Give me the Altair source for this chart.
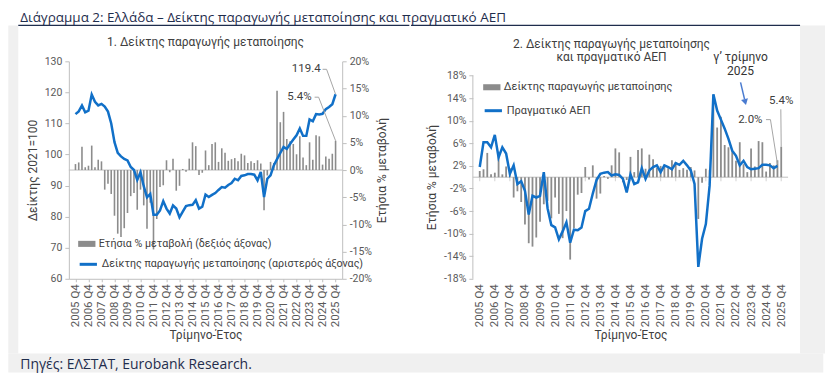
import altair as alt
import pandas as pd

# ---------------- data ----------------
quarters = ["2005 Q4"] + [f"{y} Q{k}" for y in range(2006, 2026) for k in (1, 2, 3, 4)]
year_labels = [q for q in quarters if q.endswith("Q4")]

index_vals = [113.0, 113.9, 115.8, 113.6, 114.1, 119.3, 117.0, 115.8, 116.3, 115.4,
              113.8, 110.0, 104.0, 100.5, 99.4, 98.6, 98.1, 96.0, 95.0, 91.8,
              94.3, 89.8, 86.2, 87.3, 80.6, 80.6, 82.0, 85.0, 82.6, 81.0,
              83.6, 82.6, 79.8, 81.6, 83.4, 83.7, 83.8, 85.3, 82.6, 83.2,
              87.1, 86.3, 87.0, 87.6, 88.6, 89.5, 89.3, 90.2, 90.8, 92.2,
              91.7, 93.1, 93.3, 93.7, 93.7, 93.5, 91.7, 94.4, 86.3, 92.2,
              93.3, 96.5, 98.5, 100.5, 102.4, 101.8, 103.4, 104.8, 106.2, 108.4,
              106.0, 106.0, 111.3, 110.7, 113.0, 112.9, 113.1, 114.6, 115.3, 116.2, 119.4]

ipi_yoy = [1.1, 1.4, 4.3, 0.5, 0.8, 4.5, 0.5, 1.9, 1.6, -3.6,
           -2.5, -4.4, -8.4, -11.7, -12.3, -10.7, -7.9, -4.8, -4.2, -7.3,
           -3.6, -6.5, -10.8, -6.0, -14.6, -9.0, -3.1, -2.8, 1.8, -0.4,
           2.1, -3.8, -2.9, 0.2, -0.3, 2.1, 5.1, 4.4, -0.9, -0.5,
           3.6, 0.9, 4.8, 5.1, 1.5, 4.0, 3.2, 1.7, 2.0, 2.2,
           1.6, 3.0, 2.7, 1.3, 1.6, 1.3, 1.8, 1.2, -7.4, -1.0,
           1.5, 1.3, 14.6, 8.8, 10.7, 5.7, 5.3, 4.8, 2.9, 6.2,
           2.3, 0.9, 5.1, 1.9, 6.4, 6.2, 1.0, 2.5, 2.1, 3.0, 5.4]

gdp_yoy = [1.8, 6.2, 6.2, 5.3, 7.5, 3.5, 5.3, 4.2, 0.6, 2.1,
           -1.2, -0.7, -2.4, -6.6, -3.3, -3.6, -3.3, 0.9, -5.5, -8.5,
           -8.9, -11.0, -9.6, -8.0, -11.6, -9.3, -9.4, -8.9, -6.0, -5.6,
           -2.9, -0.5, 0.6, 0.8, 0.9, 0.3, 0.5, 0.4, -0.3, -2.7,
           0.5, -1.2, -0.9, 1.6, -0.3, 1.2, 1.8, 2.1, 0.9, 2.1,
           1.8, 1.4, 2.5, 2.2, 2.9, 2.1, 1.2, -1.2, -15.9, -10.9,
           -8.3, -1.5, 14.7, 11.8, 10.2, 8.6, 6.8, 4.7, 3.8, 2.1,
           2.9, 1.8, 1.4, 1.5, 1.6, 2.2, 2.2, 2.1, 1.6, 2.0, None]

main_title = "Διάγραμμα 2: Ελλάδα – Δείκτης παραγωγής μεταποίησης και πραγματικό ΑΕΠ"
left_title = "1. Δείκτης παραγωγής μεταποίησης"
right_title = ["2. Δείκτης παραγωγής μεταποίησης", "και πραγματικό ΑΕΠ"]
bar_lbl_left = "Ετήσια % μεταβολή (δεξιός άξονας)"
line_lbl_left = "Δείκτης παραγωγής μεταποίησης (αριστερός άξονας)"
bar_lbl_right = "Δείκτης παραγωγής μεταποίησης"
line_lbl_right = "Πραγματικό ΑΕΠ"
note_lines = ["γ’ τρίμηνο", "2025"]
footer_text = "Πηγές: ΕΛΣΤΑΤ, Eurobank Research."

# ---------------- style ----------------
FONT = "Roboto"
HFONT = "Open Sans"
GRAY_BAR = "#8c8c8c"
BLUE = "#1170c8"
ARROW = "#4a7bd0"
AX = "#bfbfbf"
LBL = "#595959"
TXT = "#404040"
NAVY = "#1f2d4d"
BG = "#f0f0f0"
LEAD = "#a6a6a6"

n = len(quarters)
df = pd.DataFrame({"q": list(range(n)), "quarter": quarters, "idx": index_vals,
                   "ipi": ipi_yoy, "gdp": gdp_yoy})
df["bl"] = bar_lbl_left
df["ll"] = line_lbl_left
df["bl2"] = bar_lbl_right
df["ll2"] = line_lbl_right

last = df.iloc[[n - 1]].copy()
last["idx_lbl"] = last["idx"].map(lambda v: f"{v:.1f}")
last["ipi_lbl"] = last["ipi"].map(lambda v: f"{v:.1f}%")
gdp_last = df[df["gdp"].notna()].iloc[[-1]].copy()
gdp_last["gdp_lbl"] = gdp_last["gdp"].map(lambda v: f"{v:.1f}%")
gdp_last["n1"] = note_lines[0]
gdp_last["n2"] = note_lines[1]

one = pd.DataFrame({"a": [0]})
zero_df = pd.DataFrame({"v": [0.0]})
tick_df = pd.DataFrame({"q": list(range(0, n, 4)), "v": 0.0})
ydom_df = pd.DataFrame({"lo": [-18.0], "hi": [18.0]})

label_expr = "[" + ",".join(f"'{s}'" for s in year_labels) + "][round(datum.value / 4)]"
xs = alt.Scale(domain=[-0.5, n - 0.5], nice=False, zero=False)

# page positions (px) of the two plot origins: left (68.7, 59), right (472, 59)


def x_axis(bottom_line):
    return alt.Axis(values=list(range(0, n, 4)), labelExpr=label_expr, labelAngle=270,
                    labelFont=FONT, labelFontSize=11.5, labelColor=LBL,
                    labelPadding=2 if bottom_line else 5, labelOverlap=False, labelFlush=False,
                    ticks=bottom_line, tickSize=3, tickColor=AX,
                    domain=bottom_line, domainColor=AX, grid=False,
                    title="Τρίμηνο-Έτος", titleFont=FONT, titleFontSize=12,
                    titleFontWeight="normal", titleColor=TXT, titlePadding=3)


def leg(x, y, kind, size=11):
    common = dict(title=None, orient="none", legendX=x, legendY=y, labelFont=FONT,
                  labelFontSize=size, labelColor=TXT, labelOffset=3, padding=0, labelLimit=400)
    if kind == "bar":
        return alt.Legend(symbolType="M-1,-0.35L1,-0.35L1,0.35L-1,0.35Z", symbolSize=300,
                          symbolStrokeWidth=0, **common)
    return alt.Legend(symbolType="stroke", symbolSize=300, symbolStrokeWidth=3, **common)


def bg_rect(x1, x2, y1, y2):
    return alt.Chart(one).mark_rect(color=BG).encode(
        x=alt.value(x1), x2=alt.value(x2), y=alt.value(y1), y2=alt.value(y2))


def label(txt, x, y, size, color=TXT, font=FONT, align="center", baseline="middle"):
    return alt.Chart(one).mark_text(align=align, baseline=baseline, font=font,
                                    fontSize=size, color=color).encode(
        x=alt.value(x), y=alt.value(y), text=alt.value(txt))


# ---------------- left panel ----------------
yL = alt.Scale(domain=[60, 130], nice=False, zero=False)
yR = alt.Scale(domain=[-20, 20], nice=False)
xaL = x_axis(True)
XL = alt.X("q:Q", scale=xs, axis=xaL)

yaxis_left = alt.Axis(values=list(range(60, 131, 10)), orient="left", grid=False,
                      labelFont=FONT, labelFontSize=10.5, labelColor=LBL, labelPadding=3,
                      tickSize=4, tickColor=AX, domainColor=AX,
                      title="Δείκτης 2021=100", titleFont=FONT, titleFontSize=12,
                      titleFontWeight="normal", titleColor=TXT, titlePadding=5)
yaxis_right = alt.Axis(values=list(range(-20, 21, 5)), orient="right", grid=False,
                       labelExpr="datum.value + '%'",
                       labelFont=FONT, labelFontSize=10.5, labelColor=LBL, labelPadding=3,
                       tickSize=4, tickColor=AX, domainColor=AX,
                       title="Ετήσια % μεταβολή", titleAngle=270, titleBaseline="top",
                       titleFont=FONT, titleFontSize=12,
                       titleFontWeight="normal", titleColor=TXT, titlePadding=5)

bg_l = bg_rect(-60.7, -50.7, -36, 293)
top_l = alt.Chart(one).mark_rule(color=NAVY, strokeWidth=1.3).encode(
    x=alt.value(-50.7), x2=alt.value(341.3), y=alt.value(-36))
sub_l = label(left_title, 137, -19, 12)
zero_l = alt.Chart(zero_df).mark_rule(color=AX, strokeWidth=1).encode(
    y=alt.Y("v:Q", scale=yR, axis=None))
bars_l = alt.Chart(df).mark_bar(width=1.6).encode(
    x=XL, y=alt.Y("ipi:Q", scale=yR, axis=yaxis_right),
    fill=alt.Fill("bl:N", scale=alt.Scale(domain=[bar_lbl_left], range=[GRAY_BAR]),
                  legend=leg(9, 174, "bar", 10.7)))
line_l = alt.Chart(df).mark_line(strokeWidth=2.5).encode(
    x=XL, y=alt.Y("idx:Q", scale=yL, axis=yaxis_left),
    stroke=alt.Stroke("ll:N", scale=alt.Scale(domain=[line_lbl_left], range=[BLUE]),
                      legend=leg(9, 193, "line", 10.7)))

ann_idx_t = alt.Chart(last).mark_text(align="right", baseline="middle", dx=-15, dy=-25,
                                      font=FONT, fontSize=11.5, color=TXT).encode(
    x=XL, y=alt.Y("idx:Q", scale=yL, axis=None), text="idx_lbl:N")
ann_idx_r = alt.Chart(last).mark_rule(color=LEAD, strokeWidth=1, x2Offset=-9, y2Offset=-25).encode(
    x=XL, x2="q:Q", y=alt.Y("idx:Q", scale=yL, axis=None), y2="idx:Q")
ann_idx_h = alt.Chart(last).mark_rule(color=LEAD, strokeWidth=1, xOffset=-9, x2Offset=-13,
                                      yOffset=-25, y2Offset=-25).encode(
    x=XL, x2="q:Q", y=alt.Y("idx:Q", scale=yL, axis=None), y2="idx:Q")
ann_ipi_t = alt.Chart(last).mark_text(align="right", baseline="middle", dx=-24, dy=-43.6,
                                      font=FONT, fontSize=11.5, color=TXT).encode(
    x=XL, y=alt.Y("ipi:Q", scale=yR, axis=None), text="ipi_lbl:N")
ann_ipi_r = alt.Chart(last).mark_rule(color=LEAD, strokeWidth=1, x2Offset=-17, y2Offset=-43.6).encode(
    x=XL, x2="q:Q", y=alt.Y("ipi:Q", scale=yR, axis=None), y2="ipi:Q")
ann_ipi_h = alt.Chart(last).mark_rule(color=LEAD, strokeWidth=1, xOffset=-17, x2Offset=-21,
                                      yOffset=-43.6, y2Offset=-43.6).encode(
    x=XL, x2="q:Q", y=alt.Y("ipi:Q", scale=yR, axis=None), y2="ipi:Q")

left = alt.layer(bg_l, top_l, sub_l, zero_l, bars_l, line_l, ann_idx_r, ann_idx_h,
                 ann_idx_t, ann_ipi_r, ann_ipi_h, ann_ipi_t).resolve_scale(
    y="independent").properties(width=274, height=218)

# ---------------- right panel ----------------
PX = 203.4 / 36.0
yS = alt.Scale(domain=[-18, 18 + 14.3 / PX], nice=False)
xaR = x_axis(False)
XR = alt.X("q:Q", scale=xs, axis=xaR)
yaxis_r = alt.Axis(values=list(range(-18, 19, 4)), orient="left", grid=False,
                   labelExpr="datum.value + '%'", domain=False,
                   labelFont=FONT, labelFontSize=10.5, labelColor=LBL, labelPadding=3,
                   tickSize=4, tickColor=AX,
                   title="Ετήσια % μεταβολή", titleFont=FONT, titleFontSize=12,
                   titleFontWeight="normal", titleColor=TXT, titlePadding=5, titleY=116)


def YR(f):
    return alt.Y(f, scale=yS, axis=yaxis_r)


bg_r = bg_rect(328, 353, -36, 293)
top_r = alt.Chart(one).mark_rule(color=NAVY, strokeWidth=1.3).encode(
    x=alt.value(-62), x2=alt.value(328), y=alt.value(-36))
sub_r1 = label(right_title[0], 139, -17, 12)
sub_r2 = label(right_title[1], 139, -4, 12)
dom_r = alt.Chart(ydom_df).mark_rule(color=AX, strokeWidth=1).encode(
    x=alt.value(0), y=YR("lo:Q"), y2="hi:Q")
zero_r = alt.Chart(zero_df).mark_rule(color=AX, strokeWidth=1).encode(y=YR("v:Q"))
ticks_r = alt.Chart(tick_df).mark_tick(orient="vertical", size=4, thickness=1, color=AX,
                                       yOffset=2).encode(x=XR, y=YR("v:Q"))
bars_r = alt.Chart(df).mark_bar(width=1.8).encode(
    x=XR, y=YR("ipi:Q"),
    fill=alt.Fill("bl2:N", scale=alt.Scale(domain=[bar_lbl_right], range=[GRAY_BAR]),
                  legend=leg(10, 17, "bar")))
line_r = alt.Chart(df).mark_line(strokeWidth=2.5).encode(
    x=XR, y=YR("gdp:Q"),
    stroke=alt.Stroke("ll2:N", scale=alt.Scale(domain=[line_lbl_right], range=[BLUE]),
                      legend=leg(10, 39, "line")))

g_t = alt.Chart(gdp_last).mark_text(align="right", baseline="middle", dx=-15, dy=-46.4,
                                    font=FONT, fontSize=11.5, color=TXT).encode(
    x=XR, y=YR("gdp:Q"), text="gdp_lbl:N")
g_r = alt.Chart(gdp_last).mark_rule(color=LEAD, strokeWidth=1, yOffset=-2, x2Offset=-7,
                                    y2Offset=-46.4).encode(
    x=XR, x2="q:Q", y=YR("gdp:Q"), y2="gdp:Q")
g_h = alt.Chart(gdp_last).mark_rule(color=LEAD, strokeWidth=1, xOffset=-7, x2Offset=-11.5,
                                    yOffset=-46.4, y2Offset=-46.4).encode(
    x=XR, x2="q:Q", y=YR("gdp:Q"), y2="gdp:Q")
n1_t = alt.Chart(gdp_last).mark_text(align="center", baseline="middle", dx=-37, dy=-109.4,
                                     font=FONT, fontSize=12, color="#333333").encode(
    x=XR, y=YR("gdp:Q"), text="n1:N")
n2_t = alt.Chart(gdp_last).mark_text(align="center", baseline="middle", dx=-37, dy=-95.6,
                                     font=FONT, fontSize=12, color="#333333").encode(
    x=XR, y=YR("gdp:Q"), text="n2:N")
arrow_r = alt.Chart(gdp_last).mark_rule(color=ARROW, strokeWidth=1.5, xOffset=-37, yOffset=-83.7,
                                        x2Offset=-33, y2Offset=-67).encode(
    x=XR, x2="q:Q", y=YR("gdp:Q"), y2="gdp:Q")
arrow_h = alt.Chart(gdp_last).mark_point(shape="triangle-down", filled=True, size=50, opacity=1,
                                         color=ARROW, xOffset=-32.3, yOffset=-64, angle=346).encode(
    x=XR, y=YR("gdp:Q"))
b_t = alt.Chart(last).mark_text(align="center", baseline="middle", dx=0, dy=-46.2,
                                font=FONT, fontSize=11.5, color=TXT).encode(
    x=XR, y=YR("ipi:Q"), text="ipi_lbl:N")
b_r = alt.Chart(last).mark_rule(color=LEAD, strokeWidth=1, x2Offset=-0.4, y2Offset=-37.5).encode(
    x=XR, x2="q:Q", y=YR("ipi:Q"), y2="ipi:Q")

right = alt.layer(bg_r, top_r, sub_r1, sub_r2, dom_r, zero_r, ticks_r, bars_r, line_r,
                  g_r, g_h, g_t, n1_t, n2_t, arrow_r, arrow_h, b_r, b_t).properties(
    width=316, height=218)

# ---------------- footer (origin x aligned with left plot origin) ----------------
footer = alt.layer(
    bg_rect(-60.7, 756.3, 0, 19),
    label(footer_text, -48.7, 15, 14, color=NAVY, font=HFONT, align="left",
          baseline="alphabetic"),
).properties(width=10, height=10)

middle = alt.hconcat(left, right, spacing=0).resolve_scale(
    fill="independent", stroke="independent").resolve_legend(
    fill="independent", stroke="independent")

chart = alt.vconcat(middle, footer, spacing=0).properties(
    title=alt.TitleParams(main_title, anchor="start", dx=12, offset=0, font=HFONT,
                          fontSize=13.5, fontWeight="normal", color=NAVY),
    padding={"left": 0, "top": 2, "right": 0, "bottom": 0},
    background="white",
).configure_view(strokeWidth=0)

chart.save("out.html", embed_options={"renderer": "svg", "actions": False})
